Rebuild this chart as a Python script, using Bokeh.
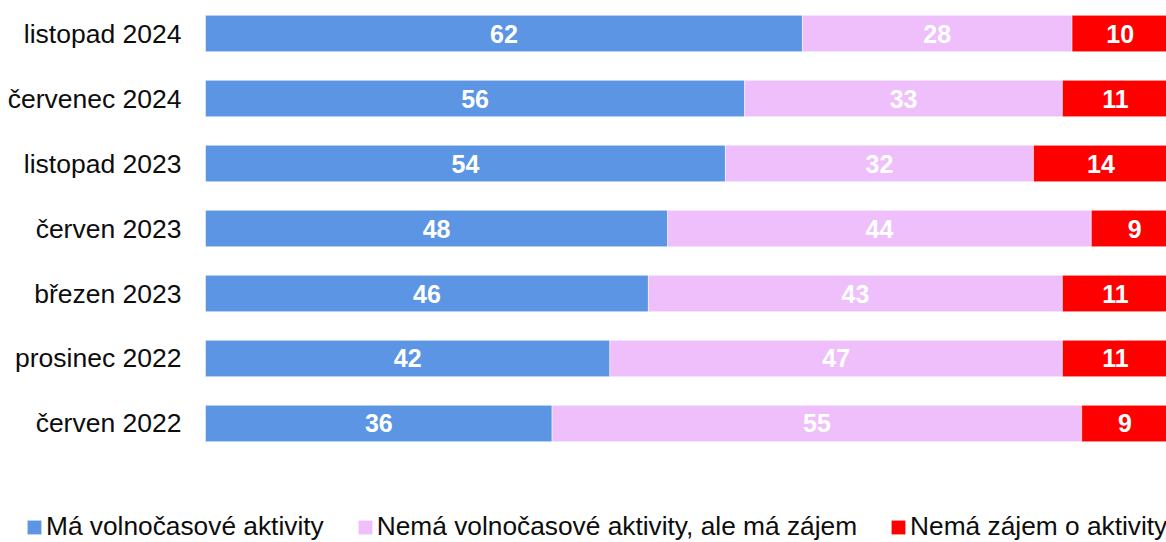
from bokeh.plotting import figure
from bokeh.models import Range1d, Legend, LegendItem, ColumnDataSource
from bokeh.core.properties import value
from bokeh.embed import file_html
from bokeh.resources import INLINE

categories = ["listopad 2024", "červenec 2024", "listopad 2023", "červen 2023",
              "březen 2023", "prosinec 2022", "červen 2022"]
ma_aktivity = [62, 56, 54, 48, 46, 42, 36]
nema_zajem_ma = [28, 33, 32, 44, 43, 47, 55]
nema_zajem = [10, 11, 14, 9, 11, 11, 9]
series_names = ["Má volnočasové aktivity",
                "Nemá volnočasové aktivity, ale má zájem",
                "Nemá zájem o aktivity"]
colors = ["#5B95E3", "#EEBFFB", "#FF0000"]

n = len(categories)
ypos = [n - 1 - i for i in range(n)]

p = figure(width=1166, height=542, output_backend="svg", toolbar_location=None,
           x_range=Range1d(-21.29, 99.81), y_range=Range1d(-1.831, 6.508),
           min_border=0)
p.outline_line_color = None
p.xgrid.visible = False
p.ygrid.visible = False
p.xaxis.visible = False
p.yaxis.visible = False

series = [ma_aktivity, nema_zajem_ma, nema_zajem]
left = [0] * n
renderers = []
for vals, col in zip(series, colors):
    right = [l + v for l, v in zip(left, vals)]
    src = ColumnDataSource(dict(y=ypos, left=left, right=right,
                                mid=[(l + r) / 2 for l, r in zip(left, right)],
                                lab=[str(v) for v in vals]))
    r = p.hbar(y="y", left="left", right="right", height=0.56, source=src,
               fill_color=col, line_color="white", line_width=1, line_alpha=0.5)
    renderers.append(r)
    p.text(x="mid", y="y", text="lab", source=src, text_color="white",
           text_font=value("Liberation Sans"), text_font_style="bold",
           text_font_size="25px", text_align="center", text_baseline="middle")
    left = right

# category labels, right-aligned just left of the bars' start (x = 0)
cat_src = ColumnDataSource(dict(x=[0] * n, y=ypos, t=categories))
p.text(x="x", y="y", text="t", source=cat_src, x_offset=-24,
       text_font=value("Liberation Sans"), text_font_size="26.5px",
       text_color="#0D0D0D", text_align="right", text_baseline="middle")

legend = Legend(items=[LegendItem(label=nm, renderers=[r]) for nm, r in zip(series_names, renderers)],
                orientation="horizontal", location=(25, 0),
                label_text_font="Liberation Sans", label_text_font_size="26.3px",
                label_text_color="#0D0D0D", glyph_width=18, glyph_height=18,
                label_standoff=3, spacing=32, padding=0, margin=0,
                border_line_color=None, background_fill_alpha=0)
p.add_layout(legend, "center")

open("out.html", "w").write(file_html(p, INLINE))
